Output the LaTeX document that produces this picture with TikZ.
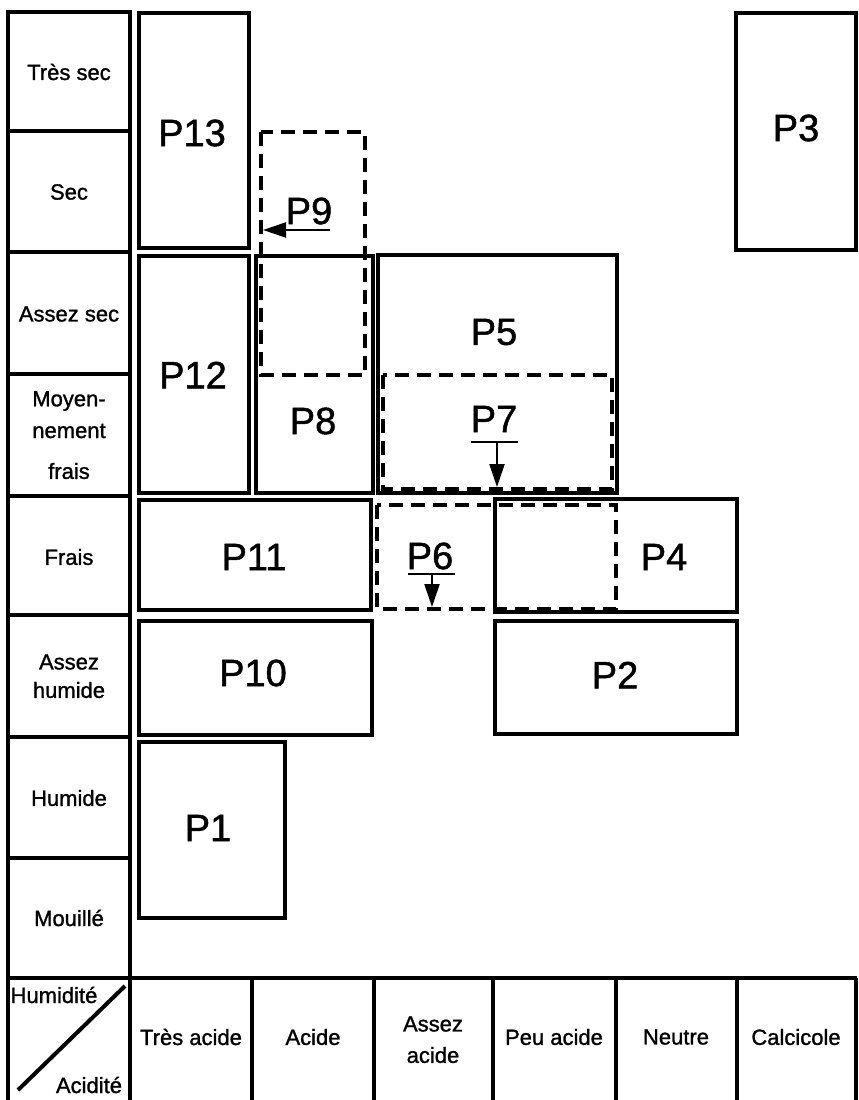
\documentclass[tikz,border=0pt]{standalone}
\usepackage{fontspec}
\setmainfont{Liberation Sans}
\newfontfamily\labfont[FakeBold=1.2]{Liberation Sans}
\usetikzlibrary{arrows.meta}
\begin{document}
\begin{tikzpicture}[x=1pt,y=-1pt,
  frame/.style={line width=4pt},
  pbox/.style={line width=3.6pt},
  dbox/.style={line width=3.4pt, dash pattern=on 14pt off 8pt},
  lab/.style={inner sep=0pt, font=\labfont\fontsize{22}{26}\selectfont},
  big/.style={inner sep=0pt, font=\labfont\fontsize{38}{40}\selectfont},
  arr/.style={line width=2.2pt, -{Triangle[length=23pt,width=15pt]}},
  uline/.style={line width=2.2pt}]
\useasboundingbox (0,0) rectangle (859,1100);
% left column
\draw[frame] (130,1100) -- (130,12) -- (8,12) -- (8,1100);
\foreach \yy in {131,252,374,496,615,737,858}
  \draw[frame] (8,\yy) -- (130,\yy);
% bottom row
\draw[frame] (8,978) -- (857,978);
\foreach \xx in {252,374,493,616,737,856}
  \draw[frame] (\xx,978) -- (\xx,1100);
\coordinate (dA) at (18,1090);
\coordinate (dB) at (125,986);
\draw[frame] (dA) -- (dB);
% row labels
\node[lab] (r1) at (69,72) {Très sec};
\node[lab] (r2) at (69,192) {Sec};
\node[lab] (r3) at (69,314) {Assez sec};
\node[lab] (r4a) at (69,401) {Moyen-};
\node[lab] (r4b) at (69,431) {nement};
\node[lab] (r4c) at (69,471) {frais};
\node[lab] (r5) at (69,557) {Frais};
\node[lab] (r6a) at (69,662) {Assez};
\node[lab] (r6b) at (69,690) {humide};
\node[lab] (r7) at (69,798) {Humide};
\node[lab] (r8) at (69,918) {Mouillé};
\node[lab] (hum) at (54,995) {Humidité};
\node[lab] (aci) at (89,1085) {Acidité};
% column labels
\node[lab] (c1) at (191,1037) {Très acide};
\node[lab] (c2) at (313,1037) {Acide};
\node[lab] (c3a) at (433,1024) {Assez};
\node[lab] (c3b) at (433,1055) {acide};
\node[lab] (c4) at (554,1037) {Peu acide};
\node[lab] (c5) at (676,1037) {Neutre};
\node[lab] (c6) at (796,1037) {Calcicole};
% solid boxes
\draw[pbox] (139,13) rectangle (249,248);
\node[big] (P13) at (192,133) {P13};
\draw[pbox] (139,256) rectangle (249,493);
\node[big] (P12) at (193,375) {P12};
\draw[pbox] (256,256) rectangle (373,493);
\node[big] (P8) at (313,421) {P8};
\draw[pbox] (378,255) rectangle (617,493);
\node[big] (P5) at (494,332) {P5};
\draw[pbox] (139,500) rectangle (371,610);
\node[big] (P11) at (254,557) {P11};
\draw[pbox] (495,499) rectangle (737,612);
\node[big] (P4) at (664,557) {P4};
\draw[pbox] (139,621) rectangle (372,735);
\node[big] (P10) at (253,673) {P10};
\draw[pbox] (495,621) rectangle (737,734);
\node[big] (P2) at (615,675) {P2};
\draw[pbox] (139,742) rectangle (285,918);
\node[big] (P1) at (208,828) {P1};
\draw[pbox] (736,13) rectangle (856,250);
\node[big] (P3) at (796,128) {P3};
% dashed boxes
\draw[dbox] (261,132) rectangle (365,375);
\node[big] (P9) at (309,211) {P9};
\coordinate (p9s) at (330,230);
\coordinate (p9e) at (263,230);
\draw[arr] (p9s) -- (p9e);
\draw[dbox] (383,375) rectangle (612,489);
\node[big] (P7) at (494,419) {P7};
\coordinate (u7a) at (471,442);
\coordinate (u7b) at (518,442);
\coordinate (a7s) at (497,442);
\coordinate (a7e) at (497,487);
\draw[uline] (u7a) -- (u7b);
\draw[arr] (a7s) -- (a7e);
\draw[dbox] (377,505) rectangle (616,609);
\node[big] (P6) at (430,556) {P6};
\coordinate (u6a) at (408,574);
\coordinate (u6b) at (455,574);
\coordinate (a6s) at (432,574);
\coordinate (a6e) at (432,607);
\draw[uline] (u6a) -- (u6b);
\draw[arr] (a6s) -- (a6e);
\end{tikzpicture}
\end{document}
